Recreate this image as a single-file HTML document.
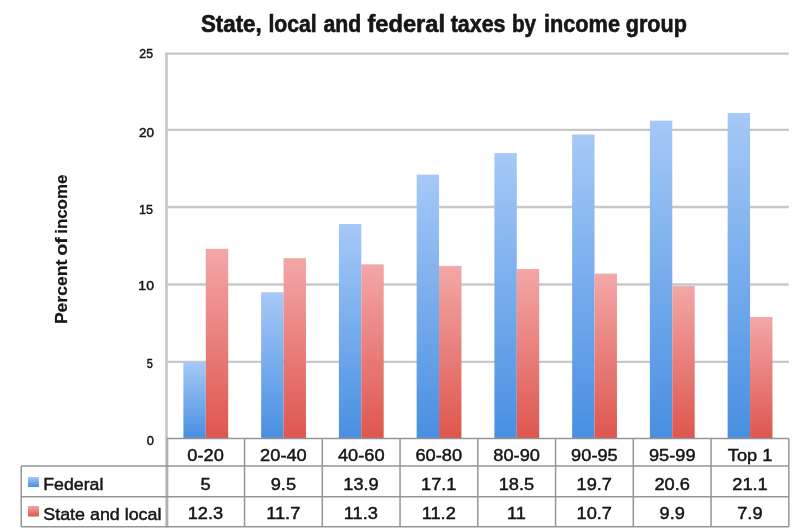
<!DOCTYPE html><html><head><meta charset="utf-8"><title>State, local and federal taxes by income group</title>
<style>html,body{margin:0;padding:0;background:#fff}svg{display:block}text{font-family:"Liberation Sans",sans-serif;fill:#141414;stroke:#141414;stroke-width:0.45px}.b{font-weight:bold;stroke-width:0.2px}.t{stroke-width:0.6px}</style></head><body>
<svg width="800" height="531" viewBox="0 0 800 531">
<defs><linearGradient id="gb" x1="0" y1="0" x2="0" y2="1"><stop offset="0" stop-color="#a6c9f7"/><stop offset="0.5" stop-color="#76acec"/><stop offset="1" stop-color="#498fe1"/></linearGradient>
<linearGradient id="gr" x1="0" y1="0" x2="0" y2="1"><stop offset="0" stop-color="#f3a7a7"/><stop offset="1" stop-color="#de564e"/></linearGradient>
<filter id="bl" x="-5%" y="-5%" width="110%" height="110%"><feGaussianBlur stdDeviation="0.55"/></filter></defs>
<rect width="800" height="531" fill="#fff"/>
<g filter="url(#bl)">
<line x1="166.5" x2="788.8" y1="361.90" y2="361.90" stroke="#c8c8c8" stroke-width="2.4"/>
<line x1="166.5" x2="788.8" y1="284.50" y2="284.50" stroke="#c8c8c8" stroke-width="2.4"/>
<line x1="166.5" x2="788.8" y1="207.00" y2="207.00" stroke="#c8c8c8" stroke-width="2.4"/>
<line x1="166.5" x2="788.8" y1="129.85" y2="129.85" stroke="#c8c8c8" stroke-width="2.4"/>
<line x1="166.5" x2="788.8" y1="53.60" y2="53.60" stroke="#c8c8c8" stroke-width="2.4"/>
<line x1="166.5" x2="166.5" y1="52.4" y2="438.4" stroke="#c8c8c8" stroke-width="2.7"/>
<line x1="166.9" x2="166.9" y1="438.4" y2="527.3000000000001" stroke="#b0b0b0" stroke-width="2.9"/>
<rect x="183.40" y="361.90" width="22.4" height="76.50" fill="url(#gb)"/>
<rect x="205.80" y="248.85" width="22.4" height="189.55" fill="url(#gr)"/>
<rect x="261.15" y="292.24" width="22.4" height="146.16" fill="url(#gb)"/>
<rect x="283.55" y="258.15" width="22.4" height="180.25" fill="url(#gr)"/>
<rect x="338.90" y="224.05" width="22.4" height="214.35" fill="url(#gb)"/>
<rect x="361.30" y="264.35" width="22.4" height="174.05" fill="url(#gr)"/>
<rect x="416.65" y="174.60" width="22.4" height="263.80" fill="url(#gb)"/>
<rect x="439.05" y="265.90" width="22.4" height="172.50" fill="url(#gr)"/>
<rect x="494.40" y="153.00" width="22.4" height="285.40" fill="url(#gb)"/>
<rect x="516.80" y="269.00" width="22.4" height="169.40" fill="url(#gr)"/>
<rect x="572.15" y="134.48" width="22.4" height="303.92" fill="url(#gb)"/>
<rect x="594.55" y="273.65" width="22.4" height="164.75" fill="url(#gr)"/>
<rect x="649.90" y="120.70" width="22.4" height="317.70" fill="url(#gb)"/>
<rect x="672.30" y="286.05" width="22.4" height="152.35" fill="url(#gr)"/>
<rect x="727.65" y="113.07" width="22.4" height="325.32" fill="url(#gb)"/>
<rect x="750.05" y="317.01" width="22.4" height="121.39" fill="url(#gr)"/>
<g stroke="#959595" stroke-width="1.5" fill="none">
<line x1="166.8" x2="788.8" y1="438.4" y2="438.4"/>
<line x1="21.2" x2="788.8" y1="466.0" y2="466.0"/>
<line x1="21.2" x2="788.8" y1="496.8" y2="496.8"/>
<line x1="21.2" x2="788.8" y1="526.7" y2="526.7"/>
<line x1="21.2" x2="21.2" y1="466.0" y2="526.7"/>
<line x1="244.55" x2="244.55" y1="438.4" y2="526.7"/>
<line x1="322.30" x2="322.30" y1="438.4" y2="526.7"/>
<line x1="400.05" x2="400.05" y1="438.4" y2="526.7"/>
<line x1="477.80" x2="477.80" y1="438.4" y2="526.7"/>
<line x1="555.55" x2="555.55" y1="438.4" y2="526.7"/>
<line x1="633.30" x2="633.30" y1="438.4" y2="526.7"/>
<line x1="711.05" x2="711.05" y1="438.4" y2="526.7"/>
<line x1="788.80" x2="788.80" y1="438.4" y2="526.7"/>
</g>
<rect x="28" y="477" width="11" height="10" fill="url(#gb)"/>
<rect x="28" y="506" width="11" height="10.5" fill="url(#gr)"/>
<text y="32.3" font-size="24.6" class="b t"><tspan x="200.92" textLength="60.86" lengthAdjust="spacingAndGlyphs">State,</tspan> <tspan x="268.39" textLength="48.36" lengthAdjust="spacingAndGlyphs">local</tspan> <tspan x="323.45" textLength="37.74" lengthAdjust="spacingAndGlyphs">and</tspan> <tspan x="367.42" textLength="77.57" lengthAdjust="spacingAndGlyphs">federal</tspan> <tspan x="450.68" textLength="54.81" lengthAdjust="spacingAndGlyphs">taxes</tspan> <tspan x="511.92" textLength="24.25" lengthAdjust="spacingAndGlyphs">by</tspan> <tspan x="544.06" textLength="75.90" lengthAdjust="spacingAndGlyphs">income</tspan> <tspan x="625.72" textLength="61.09" lengthAdjust="spacingAndGlyphs">group</tspan></text>
<text transform="translate(67.3,322.4) rotate(-90)" y="0" font-size="17.4" class="b"><tspan x="-1.71" textLength="64.41" lengthAdjust="spacingAndGlyphs">Percent</tspan> <tspan x="66.55" textLength="18.66" lengthAdjust="spacingAndGlyphs">of</tspan> <tspan x="88.58" textLength="59.24" lengthAdjust="spacingAndGlyphs">income</tspan></text>
<text x="139.29" y="58.10" font-size="13" textLength="13.70" lengthAdjust="spacingAndGlyphs">25</text>
<text x="138.92" y="136.96" font-size="13" textLength="15.07" lengthAdjust="spacingAndGlyphs">20</text>
<text x="139.03" y="213.90" font-size="13" textLength="13.97" lengthAdjust="spacingAndGlyphs">15</text>
<text x="138.32" y="290.10" font-size="13" textLength="15.69" lengthAdjust="spacingAndGlyphs">10</text>
<text x="146.83" y="367.65" font-size="13" textLength="6.13" lengthAdjust="spacingAndGlyphs">5</text>
<text x="146.80" y="444.80" font-size="13" textLength="7.18" lengthAdjust="spacingAndGlyphs">0</text>
<text x="187.39" y="461.00" font-size="17.2" textLength="36.47" lengthAdjust="spacingAndGlyphs">0-20</text>
<text x="200.64" y="489.60" font-size="17.2" textLength="10.14" lengthAdjust="spacingAndGlyphs">5</text>
<text x="187.66" y="519.20" font-size="17.2" textLength="35.46" lengthAdjust="spacingAndGlyphs">12.3</text>
<text x="260.11" y="461.00" font-size="17.2" textLength="46.61" lengthAdjust="spacingAndGlyphs">20-40</text>
<text x="270.70" y="489.60" font-size="17.2" textLength="25.34" lengthAdjust="spacingAndGlyphs">9.5</text>
<text x="266.20" y="519.20" font-size="17.2" textLength="34.12" lengthAdjust="spacingAndGlyphs">11.7</text>
<text x="337.99" y="461.00" font-size="17.2" textLength="46.61" lengthAdjust="spacingAndGlyphs">40-60</text>
<text x="343.29" y="489.60" font-size="17.2" textLength="35.46" lengthAdjust="spacingAndGlyphs">13.9</text>
<text x="343.82" y="519.20" font-size="17.2" textLength="34.12" lengthAdjust="spacingAndGlyphs">11.3</text>
<text x="415.47" y="461.00" font-size="17.2" textLength="46.61" lengthAdjust="spacingAndGlyphs">60-80</text>
<text x="421.04" y="489.60" font-size="17.2" textLength="35.46" lengthAdjust="spacingAndGlyphs">17.1</text>
<text x="421.70" y="519.20" font-size="17.2" textLength="34.12" lengthAdjust="spacingAndGlyphs">11.2</text>
<text x="493.35" y="461.00" font-size="17.2" textLength="46.61" lengthAdjust="spacingAndGlyphs">80-90</text>
<text x="498.65" y="489.60" font-size="17.2" textLength="35.46" lengthAdjust="spacingAndGlyphs">18.5</text>
<text x="507.00" y="519.20" font-size="17.2" textLength="18.91" lengthAdjust="spacingAndGlyphs">11</text>
<text x="571.11" y="461.00" font-size="17.2" textLength="46.61" lengthAdjust="spacingAndGlyphs">90-95</text>
<text x="576.54" y="489.60" font-size="17.2" textLength="35.46" lengthAdjust="spacingAndGlyphs">19.7</text>
<text x="576.54" y="519.20" font-size="17.2" textLength="35.46" lengthAdjust="spacingAndGlyphs">10.7</text>
<text x="648.99" y="461.00" font-size="17.2" textLength="46.61" lengthAdjust="spacingAndGlyphs">95-99</text>
<text x="654.42" y="489.60" font-size="17.2" textLength="35.46" lengthAdjust="spacingAndGlyphs">20.6</text>
<text x="659.59" y="519.20" font-size="17.2" textLength="25.34" lengthAdjust="spacingAndGlyphs">9.9</text>
<text x="727.80" y="461.00" font-size="17.2" textLength="44.57" lengthAdjust="spacingAndGlyphs">Top 1</text>
<text x="732.30" y="489.60" font-size="17.2" textLength="35.46" lengthAdjust="spacingAndGlyphs">21.1</text>
<text x="737.21" y="519.20" font-size="17.2" textLength="25.34" lengthAdjust="spacingAndGlyphs">7.9</text>
<text x="43.25" y="490.00" font-size="17.2" textLength="60.07" lengthAdjust="spacingAndGlyphs">Federal</text>
<text x="43.32" y="519.80" font-size="17.2" textLength="118.15" lengthAdjust="spacingAndGlyphs">State and local</text>
</g></svg></body></html>
